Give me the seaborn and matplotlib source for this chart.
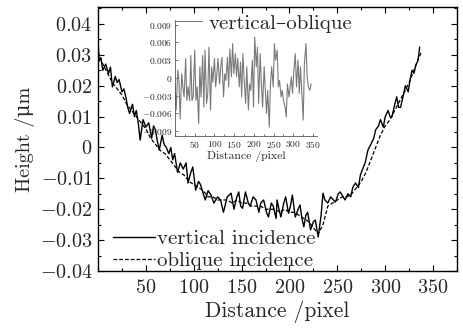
import matplotlib
matplotlib.use("Agg")
import matplotlib.pyplot as plt
import matplotlib.ticker as mtick
import seaborn as sns

sns.set_style("ticks")
plt.rcParams["font.family"] = ["cmr10", "DejaVu Serif"]
plt.rcParams["mathtext.fontset"] = "cm"
plt.rcParams["axes.unicode_minus"] = False

# ── Data ─────────────────────────────────────────────────────────────────────
vert_x = [0, 1, 3, 5, 8, 11, 13, 15, 18, 20,
          22, 25, 27, 29, 31, 33, 36, 38, 40, 42,
          44, 47, 50, 53, 56, 58, 60, 62, 64, 67,
          69, 71, 74, 76, 78, 80, 83, 86, 89, 92,
          94, 97, 99, 102, 105, 107, 110, 112, 115, 118,
          121, 125, 128, 131, 135, 139, 142, 145, 147, 149,
          151, 154, 157, 159, 162, 165, 168, 170, 173, 176,
          178, 181, 183, 186, 187, 189, 191, 194, 196, 199,
          201, 203, 206, 209, 211, 213, 215, 217, 219, 222,
          225, 227, 230, 233, 235, 237, 240, 243, 246, 248,
          251, 253, 256, 258, 261, 264, 266, 269, 272, 274,
          276, 279, 282, 285, 288, 290, 293, 295, 298, 300,
          303, 305, 307, 310, 312, 314, 316, 319, 321, 324,
          326, 328, 330, 332, 334, 335, 336]
vert_y = [0.035, 0.028, 0.029, 0.025, 0.027, 0.024, 0.026, 0.0196, 0.023, 0.021,
          0.022, 0.018, 0.019, 0.0164, 0.013, 0.011, 0.014, 0.010, 0.012, 0.008,
          0.0024, 0.009, 0.0066, 0.008, 0.003, 0.007, 0.0057, 0.002, -0.0008, 0.004,
          0.001, 0.0002, -0.002, 0.000, -0.004, -0.002, -0.008, -0.005, -0.007, -0.005,
          -0.0115, -0.008, -0.0063, -0.0138, -0.011, -0.012, -0.015, -0.017, -0.014, -0.0154,
          -0.018, -0.016, -0.017, -0.021, -0.016, -0.0148, -0.020, -0.016, -0.0144, -0.019,
          -0.0197, -0.0144, -0.018, -0.019, -0.016, -0.017, -0.021, -0.018, -0.017, -0.021,
          -0.0225, -0.018, -0.019, -0.023, -0.017, -0.020, -0.0225, -0.018, -0.016, -0.0213,
          -0.019, -0.0154, -0.0225, -0.020, -0.0186, -0.023, -0.0257, -0.022, -0.021, -0.0267,
          -0.024, -0.0235, -0.029, -0.022, -0.0148, -0.017, -0.018, -0.016, -0.017, -0.0177,
          -0.015, -0.0144, -0.016, -0.017, -0.015, -0.016, -0.013, -0.0115, -0.013, -0.009,
          -0.0073, -0.005, -0.0008, 0.001, 0.003, 0.0057, 0.007, 0.009, 0.0066, 0.010,
          0.012, 0.010, 0.0099, 0.014, 0.0164, 0.013, 0.013, 0.017, 0.020, 0.018,
          0.022, 0.025, 0.024, 0.0267, 0.028, 0.030, 0.0325]

obl_x = [0, 5, 10, 15, 20, 25, 30, 35, 40, 45,
         50, 55, 60, 65, 70, 75, 80, 85, 90, 95,
         100, 105, 110, 115, 120, 125, 130, 135, 140, 145,
         150, 155, 160, 165, 170, 175, 180, 185, 190, 195,
         200, 205, 210, 215, 220, 225, 230, 235, 240, 245,
         250, 255, 260, 265, 270, 275, 280, 285, 290, 295,
         300, 305, 310, 315, 320, 325, 330, 335, 338]
obl_y = [0.031, 0.027, 0.024, 0.021, 0.019, 0.017, 0.014, 0.012, 0.010, 0.008,
         0.006, 0.003, 0.001, -0.001, -0.002, -0.004, -0.006, -0.008, -0.009, -0.011,
         -0.012, -0.013, -0.014, -0.016, -0.016, -0.017, -0.017, -0.017, -0.018, -0.017,
         -0.018, -0.018, -0.019, -0.019, -0.019, -0.020, -0.020, -0.020, -0.021, -0.020,
         -0.021, -0.021, -0.022, -0.023, -0.024, -0.026, -0.028, -0.025, -0.019, -0.018,
         -0.017, -0.016, -0.016, -0.015, -0.013, -0.011, -0.008, -0.004, 0.000, 0.004,
         0.007, 0.009, 0.012, 0.015, 0.018, 0.021, 0.025, 0.029, 0.031]

diff_x = [0, 3, 7, 10, 13, 17, 20, 23, 27, 30,
          33, 37, 40, 43, 46, 50, 53, 56, 60, 63,
          66, 70, 73, 76, 80, 83, 86, 90, 93, 96,
          100, 103, 106, 109, 113, 116, 119, 123, 126, 129,
          133, 136, 139, 143, 146, 149, 153, 156, 159, 163,
          166, 169, 172, 176, 179, 182, 186, 189, 192, 196,
          199, 202, 206, 209, 212, 216, 219, 222, 226, 229,
          232, 235, 239, 242, 245, 249, 252, 255, 259, 262,
          265, 269, 272, 275, 279, 282, 285, 289, 292, 295,
          298, 302, 305, 308, 312, 315, 318, 322, 325, 328,
          332, 335, 338, 342, 345]
diff_y = [-0.0010, -0.0054, 0.0013, -0.0004, -0.0069, 0.0007, -0.0015, -0.0032, 0.0033, -0.0038,
          -0.0015, -0.0038, 0.0038, -0.0038, -0.0032, 0.0047, -0.0038, -0.0015, -0.0077, 0.0019,
          -0.0032, 0.0038, -0.0049, 0.0047, -0.0043, -0.0026, 0.0052, -0.0054, 0.0019, -0.0007,
          0.0033, -0.0015, 0.0007, 0.0033, -0.0010, 0.0019, 0.0035, -0.0032, 0.0007, -0.0004,
          0.0035, -0.0015, 0.0049, 0.0002, 0.0058, 0.0007, 0.0041, 0.0002, 0.0033, -0.0015,
          0.0027, -0.0032, 0.0041, -0.0010, -0.0043, 0.0019, -0.0054, -0.0010, -0.0021, 0.0030,
          -0.0049, 0.0069, 0.0019, 0.0052, -0.0043, 0.0041, -0.0010, -0.0049, 0.0019, -0.0021,
          -0.0060, -0.0021, -0.0083, -0.0010, 0.0019, -0.0015, 0.0058, 0.0030, 0.0047, -0.0015,
          -0.0004, -0.0032, -0.0021, -0.0038, -0.0049, -0.0066, -0.0010, -0.0032, -0.0015, 0.0002,
          -0.0026, 0.0019, 0.0041, -0.0015, 0.0030, -0.0026, 0.0019, -0.0032, -0.0071, 0.0024,
          0.0058, 0.0002, -0.0015, -0.0021, -0.0010]

main_xticks = [50, 100, 150, 200, 250, 300, 350]
main_yticks = [-0.04, -0.03, -0.02, -0.01, 0, 0.01, 0.02, 0.03, 0.04]
inset_yticks = [-0.009, -0.006, -0.003, 0, 0.003, 0.006, 0.009]


def tex_fmt(decimals):
    def f(v, _):
        if abs(v) < 1e-9:
            return "$0$"
        return f"${v:.{decimals}f}$"
    return mtick.FuncFormatter(f)


# ── Main plot ────────────────────────────────────────────────────────────────
fig = plt.figure(figsize=(4.63, 3.28), dpi=100)
ax = fig.add_axes([0.2117, 0.1738, 0.7754, 0.805])

sns.lineplot(x=vert_x, y=vert_y, ax=ax, color="black", linewidth=1.0,
             estimator=None, sort=False, label="vertical incidence")
sns.lineplot(x=obl_x, y=obl_y, ax=ax, color="black", linewidth=0.9,
             estimator=None, sort=False, label="oblique incidence")
ax.lines[1].set_dashes([3, 1.6])

ax.set_xlim(0, 375)
ax.set_ylim(-0.04, 0.0455)
ax.set_xticks(main_xticks)
ax.set_yticks(main_yticks)
ax.xaxis.set_minor_locator(mtick.MultipleLocator(25))
ax.yaxis.set_minor_locator(mtick.MultipleLocator(0.005))
ax.xaxis.set_major_formatter(mtick.FuncFormatter(lambda v, _: f"${v:.0f}$"))
ax.yaxis.set_major_formatter(tex_fmt(2))
ax.tick_params(which="both", direction="in", top=True, right=True,
               labelsize=14.5, width=0.8, color="black")
ax.tick_params(which="major", length=4)
ax.tick_params(which="minor", length=2.5)
ax.tick_params(axis="x", pad=6)
ax.tick_params(axis="y", pad=4)
for s in ax.spines.values():
    s.set_linewidth(1.0)
    s.set_color("black")

ax.set_xlabel("Distance /pixel", fontsize=15.5, labelpad=2)
ax.set_ylabel("Height /μm", fontsize=14.5, labelpad=3)

ax.legend(loc="lower left", bbox_to_anchor=(0.025, -0.02), frameon=False,
          fontsize=15, handlelength=2.0, handletextpad=0.1,
          labelspacing=0.15, borderaxespad=0.2, borderpad=0.1)

# ── Inset: vertical - oblique ────────────────────────────────────────────────
ins = fig.add_axes([0.378, 0.5854, 0.3067, 0.3537])
sns.lineplot(x=diff_x, y=diff_y, ax=ins, color="#7a7a7a", linewidth=0.8,
             estimator=None, sort=False, label="vertical\u2013oblique")
ins.set_xlim(0, 360)
ins.set_ylim(-0.0098, 0.0098)
ins.set_xticks(main_xticks)
ins.set_yticks(inset_yticks)
ins.xaxis.set_minor_locator(mtick.MultipleLocator(25))
ins.xaxis.set_major_formatter(mtick.FuncFormatter(lambda v, _: f"${v:.0f}$"))
ins.yaxis.set_major_formatter(tex_fmt(3))
ins.tick_params(which="both", direction="in", labelsize=6.8, width=0.5,
                color="#444444", pad=2)
ins.tick_params(which="major", length=2.5)
ins.tick_params(which="minor", length=1.5)
ins.patch.set_alpha(0)
for side in ["top", "right"]:
    ins.spines[side].set_visible(False)
for side in ["left", "bottom"]:
    ins.spines[side].set_linewidth(0.6)
    ins.spines[side].set_color("#555555")
ins.set_xlabel("Distance /pixel", fontsize=8.5, labelpad=1)
ins.legend(loc="center left", bbox_to_anchor=(0.0, 0.97), frameon=False,
           fontsize=15, handlelength=1.3, handletextpad=0.3,
           borderaxespad=0, borderpad=0)

fig.savefig("out.png", dpi=100)
